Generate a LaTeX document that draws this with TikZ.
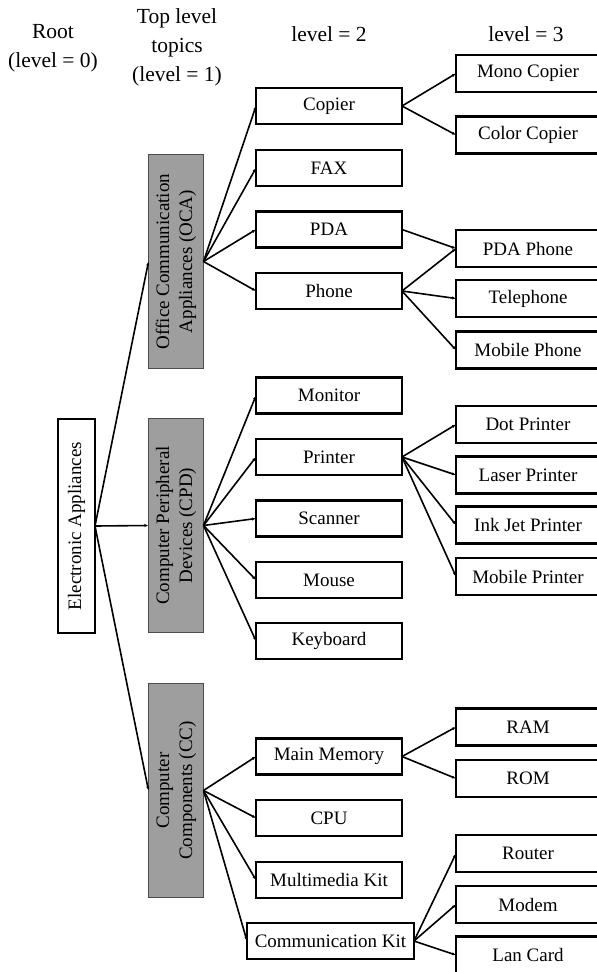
\documentclass[tikz,border=0pt]{standalone}
\usepackage{fontspec}
\setmainfont{Liberation Serif}
\usepackage{graphicx}
\usetikzlibrary{arrows.meta}

\begin{document}
\begin{tikzpicture}[x=1pt,y=-1pt,
  every node/.style={inner sep=0pt, outer sep=0pt},
  hdr/.style={align=center, font=\fontsize{21.5}{29}\selectfont},
  leaf/.style={draw, line width=2.2pt, minimum height=36pt,
    font=\fontsize{19}{21}\selectfont},
  lvtwo/.style={leaf, minimum width=146pt},
  lvthree/.style={leaf, minimum width=144pt, minimum height=37pt},
  topic/.style={draw=black!70, line width=0.6pt, fill=black!38,
    minimum width=55pt, minimum height=214pt,
    font=\fontsize{19}{23}\selectfont},
  rootbox/.style={draw, line width=1.2pt, minimum width=37pt,
    minimum height=214pt, font=\fontsize{19}{21}\selectfont},
  conn/.style={line width=1.6pt, -{Latex[length=4pt,width=3.2pt]}}
]
\useasboundingbox (0,0) rectangle (597,972);

% column headings
\node[hdr] (h0) at (53,48) {Root\\(level = 0)};
\node[hdr] (h1) at (177,47) {Top level\\topics\\(level = 1)};
\node[hdr] (h2) at (329,34) {level = 2};
\node[hdr] (h3) at (526,34) {level = 3};

% root
\node[rootbox] (root) at (76.5,526)
  {\rotatebox{90}{Electronic Appliances}};

% top level topics
\node[topic] (oca) at (176,261.5)
  {\rotatebox{90}{\begin{tabular}{@{}c@{}}Office Communication\\Appliances (OCA)\end{tabular}}};
\node[topic] (cpd) at (176,525.5)
  {\rotatebox{90}{\begin{tabular}{@{}c@{}}Computer Peripheral\\Devices (CPD)\end{tabular}}};
\node[topic] (cc) at (176,790.5)
  {\rotatebox{90}{\begin{tabular}{@{}c@{}}Computer\\Components (CC)\end{tabular}}};

% level 2
\node[lvtwo] (copier)   at (329,106)   {Copier};
\node[lvtwo] (fax)      at (329,168)   {FAX};
\node[lvtwo] (pda)      at (329,229.5) {PDA};
\node[lvtwo] (phone)    at (329,291)   {Phone};
\node[lvtwo] (monitor)  at (329,395.5) {Monitor};
\node[lvtwo] (printer)  at (329,457)   {Printer};
\node[lvtwo] (scanner)  at (329,518.5) {Scanner};
\node[lvtwo] (mouse)    at (329,580)   {Mouse};
\node[lvtwo] (keyboard) at (329,641)   {Keyboard};
\node[lvtwo] (mainmem)  at (329,756.5) {Main Memory};
\node[lvtwo] (cpu)      at (329,818)   {CPU};
\node[lvtwo] (mmkit)    at (329,880)   {Multimedia Kit};
\node[lvtwo, minimum width=167pt] (commkit) at (330.5,941) {Communication Kit};

% level 3
\node[lvthree] (mono)      at (528,73.5)  {Mono Copier};
\node[lvthree] (color)     at (528,135)   {Color Copier};
\node[lvthree] (pdaphone)  at (528,248.5) {PDA Phone};
\node[lvthree] (telephone) at (528,298.5) {Telephone};
\node[lvthree] (mobphone)  at (528,350)   {Mobile Phone};
\node[lvthree] (dot)       at (528,424.5) {Dot Printer};
\node[lvthree] (laser)     at (528,475)   {Laser Printer};
\node[lvthree] (inkjet)    at (528,525)   {Ink Jet Printer};
\node[lvthree] (mobprint)  at (528,576.5) {Mobile Printer};
\node[lvthree] (ram)       at (528,727)   {RAM};
\node[lvthree] (rom)       at (528,778.5) {ROM};
\node[lvthree] (router)    at (528,853.5) {Router};
\node[lvthree] (modem)     at (528,904.5) {Modem};
\node[lvthree] (lancard)   at (528,955)   {Lan Card};

% root to topics
\foreach \t in {oca,cpd,cc} \draw[conn] (root.east) -- (\t.west);

% topics to level 2
\foreach \t in {copier,fax,pda,phone} \draw[conn] (oca.east) -- (\t.west);
\foreach \t in {monitor,printer,scanner,mouse,keyboard} \draw[conn] (cpd.east) -- (\t.west);
\foreach \t in {mainmem,cpu,mmkit,commkit} \draw[conn] (cc.east) -- (\t.west);

% level 2 to level 3
\foreach \t in {mono,color} \draw[conn] (copier.east) -- (\t.west);
\draw[conn] (pda.east) -- (pdaphone.west);
\foreach \t in {pdaphone,telephone,mobphone} \draw[conn] (phone.east) -- (\t.west);
\foreach \t in {dot,laser,inkjet,mobprint} \draw[conn] (printer.east) -- (\t.west);
\foreach \t in {ram,rom} \draw[conn] (mainmem.east) -- (\t.west);
\foreach \t in {router,modem,lancard} \draw[conn] (commkit.east) -- (\t.west);
\end{tikzpicture}
\end{document}
